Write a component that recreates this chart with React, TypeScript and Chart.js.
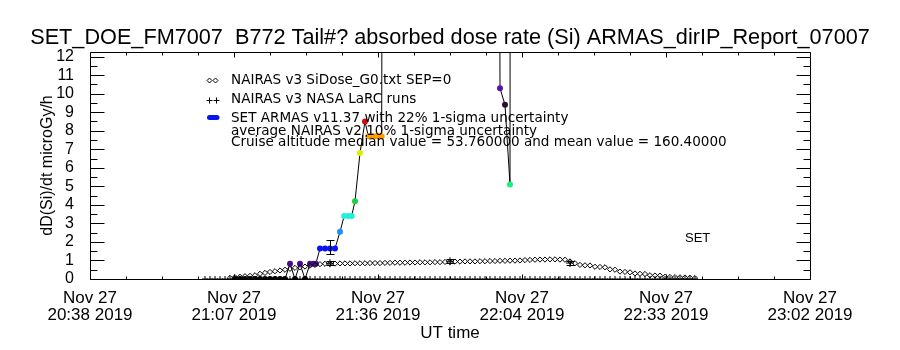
import React, { useEffect, useRef } from "react";
import { Chart, registerables } from "chart.js";

Chart.register(...registerables);

// ---------- axis definitions ----------
const AXIS_START = "20:38";
const xTickValues = [0, 28.8, 57.6, 86.4, 115.2, 144];
const xTickDates = ["Nov 27", "Nov 27", "Nov 27", "Nov 27", "Nov 27", "Nov 27"];
const xTickTimes = ["20:38 2019", "21:07 2019", "21:36 2019", "22:04 2019", "22:33 2019", "23:02 2019"];
const yTickValues = [0, 1, 2, 3, 4, 5, 6, 7, 8, 9, 10, 11, 12];

// ---------- NAIRAS v3 SiDose_G0 (diamonds) ----------
const nairasTimes = [
  "21:01", "21:02", "21:03", "21:04", "21:05", "21:06", "21:07", "21:08", "21:09", "21:10",
  "21:11", "21:12", "21:13", "21:14", "21:15", "21:16", "21:17", "21:18", "21:19", "21:20",
  "21:21", "21:22", "21:23", "21:24", "21:25", "21:26", "21:27", "21:28", "21:29", "21:30",
  "21:31", "21:32", "21:33", "21:34", "21:35", "21:36", "21:37", "21:38", "21:39", "21:40",
  "21:41", "21:42", "21:43", "21:44", "21:45", "21:46", "21:47", "21:48", "21:49", "21:50",
  "21:51", "21:52", "21:53", "21:54", "21:55", "21:56", "21:57", "21:58", "21:59", "22:00",
  "22:01", "22:02", "22:03", "22:04", "22:05", "22:06", "22:07", "22:08", "22:09", "22:10",
  "22:11", "22:12", "22:13", "22:14", "22:15", "22:16", "22:17", "22:18", "22:19", "22:20",
  "22:21", "22:22", "22:23", "22:24", "22:25", "22:26", "22:27", "22:28", "22:29", "22:30",
  "22:31", "22:32", "22:33", "22:34", "22:35", "22:36", "22:37", "22:38", "22:39",
];
const nairasDose = [
  0, 0, 0, 0, 0, 0.06, 0.1, 0.12, 0.15, 0.17,
  0.2, 0.28, 0.33, 0.38, 0.42, 0.46, 0.5, 0.55, 0.6, 0.63,
  0.67, 0.72, 0.76, 0.8, 0.82, 0.82, 0.83, 0.84, 0.84, 0.84,
  0.85, 0.85, 0.85, 0.86, 0.86, 0.86, 0.87, 0.87, 0.88, 0.88,
  0.88, 0.89, 0.89, 0.9, 0.9, 0.9, 0.91, 0.91, 0.92, 0.92,
  0.94, 0.94, 0.95, 0.95, 0.95, 0.96, 0.96, 0.97, 0.97, 0.98,
  0.98, 0.99, 0.99, 1.0, 1.02, 1.03, 1.04, 1.05, 1.05, 1.06,
  1.06, 1.05, 1.04, 0.95, 0.85, 0.76, 0.74, 0.73, 0.66, 0.65,
  0.63, 0.52, 0.5, 0.4, 0.38, 0.36, 0.3, 0.28, 0.27, 0.2,
  0.19, 0.18, 0.12, 0.11, 0.1, 0.09, 0.08, 0.07, 0.05,
];

// ---------- NAIRAS v3 NASA LaRC runs (+ with error bars) ----------
const larcTimes = ["21:26", "21:50", "22:14"];
const larcDose = [0.85, 0.96, 0.86];
const larcErr = [0.12, 0.12, 0.12];

// ---------- SET ARMAS v11.37 ----------
const armasTimes = [
  "21:07:00", "21:08:00", "21:09:00", "21:10:00", "21:11:00", "21:12:00", "21:13:00", "21:14:00",
  "21:15:00", "21:16:00", "21:17:00", "21:18:00", "21:19:00", "21:20:00", "21:21:00", "21:22:00",
  "21:22:40", "21:23:10", "21:24:00", "21:25:00", "21:26:00", "21:27:00", "21:28:00", "21:28:50",
  "21:29:40", "21:30:20", "21:31:00", "21:32:00", "21:33:00", "21:33:40", "21:34:20", "21:35:00",
  "21:35:40", "21:36:20", "21:36:40", "21:42:00", "21:48:00", "21:54:00", "21:59:30", "21:59:50",
  "22:00:00", "22:01:00", "22:02:00", "22:02:20",
];
const armasDose = [
  0, 0, 0, 0, 0, 0, 0, 0,
  0, 0, 0, 0.82, 0, 0.82, 0, 0.82,
  0.82, 0.82, 1.65, 1.65, 1.65, 1.65, 2.55, 3.4,
  3.4, 3.4, 4.2, 6.8, 8.5, 7.7, 7.7, 7.7,
  7.7, 7.7, 48, 130, 210, 180, 70, 26,
  10.3, 9.4, 5.1, 150,
];
const armasColors = [
  "#000000", "#000000", "#000000", "#000000", "#000000", "#000000", "#000000", "#000000",
  "#000000", "#000000", "#000000", "#4a0a8c", "#000000", "#4a0a8c", "#000000", "#4a0a8c",
  "#4a0a8c", "#4a0a8c", "#0a14f0", "#0a14f0", "#0a14f0", "#0a14f0", "#1e8cff", "#20f0d8",
  "#20f0d8", "#20f0d8", "#22cc44", "#d8f000", "#cc1010", "#ff9a00", "#ff9a00", "#ff9a00",
  "#ff9a00", "#ff9a00", "#ff2000", "#ff2000", "#ff2000", "#ff2000", "#ff2000", "#ff2000",
  "#5a12a8", "#2d0a32", "#18f080", "#ff2000",
];
const armasErrTimes = ["21:26:00"];
const armasErrDose = [1.72];
const armasErrSigma = [0.36];

// ---------- texts ----------
const titleText = "SET_DOE_FM7007  B772 Tail#? absorbed dose rate (Si) ARMAS_dirIP_Report_07007";
const legendTexts = [
  "NAIRAS v3 SiDose_G0.txt SEP=0",
  "NAIRAS v3 NASA LaRC runs",
  "SET ARMAS v11.37 with 22% 1-sigma uncertainty",
  "average NAIRAS v2 10% 1-sigma uncertainty",
  "Cruise altitude median value = 53.760000 and mean value = 160.40000",
];
const cornerText = "SET";

const FONT = "'Liberation Sans', Arial, sans-serif";
const LEG_FONT = "'DejaVu Sans', 'Liberation Sans', sans-serif";

function toMin(t: string): number {
  const p = t.split(":").map(Number);
  const s = p[0] * 60 + p[1] + (p[2] || 0) / 60;
  const a = AXIS_START.split(":").map(Number);
  return s - (a[0] * 60 + a[1]);
}

function fitText(ctx: CanvasRenderingContext2D, text: string, family: string, size: number, width: number) {
  ctx.font = `${size}px ${family}`;
  const w = ctx.measureText(text).width;
  return w > 0 ? (size * width) / w : size;
}

const idlPlugin = {
  id: "idlDecor",
  afterDatasetsDraw(chart: any) {
    const { ctx, chartArea, scales } = chart;
    const { left, right, top, bottom } = chartArea;
    const x = scales.x;
    const y = scales.y;
    ctx.save();
    ctx.strokeStyle = "#000";
    ctx.fillStyle = "#000";
    ctx.lineWidth = 1;

    // frame
    ctx.beginPath();
    ctx.rect(Math.round(left) + 0.5, Math.round(top) + 0.5, Math.round(right - left), Math.round(bottom - top));
    ctx.stroke();

    const L = Math.round(left) + 0.5;
    const R = Math.round(right) + 0.5;
    const T = Math.round(top) + 0.5;
    const B = Math.round(bottom) + 0.5;

    // x ticks (major + minor), bottom and top, pointing inward
    ctx.beginPath();
    const xStep = xTickValues[1] - xTickValues[0];
    for (let i = 0; i < xTickValues.length; i++) {
      for (let k = 0; k < 4; k++) {
        const v = xTickValues[i] + (k * xStep) / 4;
        if (v > x.max + 1e-6) continue;
        const px = Math.round(x.getPixelForValue(v)) + 0.5;
        const len = k === 0 ? 5 : 3;
        ctx.moveTo(px, B);
        ctx.lineTo(px, B - len);
        ctx.moveTo(px, T);
        ctx.lineTo(px, T + len);
      }
    }
    // y ticks, left and right
    for (let i = 0; i < yTickValues.length; i++) {
      for (let k = 0; k < 2; k++) {
        const v = yTickValues[i] + k * 0.5;
        if (v > y.max + 1e-6) continue;
        const py = Math.round(y.getPixelForValue(v)) + 0.5;
        const len = k === 0 ? 14 : 7;
        ctx.moveTo(L, py);
        ctx.lineTo(L + len, py);
        ctx.moveTo(R, py);
        ctx.lineTo(R - len, py);
      }
    }
    ctx.stroke();

    // error bars: LaRC
    ctx.beginPath();
    for (let i = 0; i < larcTimes.length; i++) {
      const px = Math.round(x.getPixelForValue(toMin(larcTimes[i]))) + 0.5;
      const p1 = Math.round(y.getPixelForValue(larcDose[i] - larcErr[i])) + 0.5;
      const p2 = Math.round(y.getPixelForValue(larcDose[i] + larcErr[i])) + 0.5;
      ctx.moveTo(px, p1); ctx.lineTo(px, p2);
      ctx.moveTo(px - 4, p1); ctx.lineTo(px + 4, p1);
      ctx.moveTo(px - 4, p2); ctx.lineTo(px + 4, p2);
    }
    // error bars: ARMAS
    for (let i = 0; i < armasErrTimes.length; i++) {
      const px = Math.round(x.getPixelForValue(toMin(armasErrTimes[i]))) + 0.5;
      const p1 = Math.round(y.getPixelForValue(armasErrDose[i] - armasErrSigma[i])) + 0.5;
      const p2 = Math.round(y.getPixelForValue(armasErrDose[i] + armasErrSigma[i])) + 0.5;
      ctx.moveTo(px, p1); ctx.lineTo(px, p2);
      ctx.moveTo(px - 4, p1); ctx.lineTo(px + 4, p1);
      ctx.moveTo(px - 4, p2); ctx.lineTo(px + 4, p2);
    }
    ctx.stroke();

    // title (fit to the reference width)
    const ts = Math.min(23, fitText(ctx, titleText, FONT, 20, 840));
    ctx.font = `${ts}px ${FONT}`;
    ctx.textAlign = "center";
    ctx.textBaseline = "middle";
    ctx.fillText(titleText, 450, 38);

    // legend symbols
    const sx = 207;
    ctx.beginPath();
    [209.5, 215.5].forEach((cx) => {
      const cy = 80.5;
      ctx.moveTo(cx, cy - 2.5); ctx.lineTo(cx + 2.5, cy); ctx.lineTo(cx, cy + 2.5); ctx.lineTo(cx - 2.5, cy); ctx.closePath();
    });
    ctx.stroke();
    ctx.beginPath();
    [209.5, 216.5].forEach((cx) => {
      const cy = 100.5;
      ctx.moveTo(cx - 3, cy); ctx.lineTo(cx + 3, cy);
      ctx.moveTo(cx, cy - 3); ctx.lineTo(cx, cy + 3);
    });
    ctx.stroke();
    ctx.fillStyle = "#0a14f0";
    ctx.beginPath();
    ctx.arc(sx + 2.5, 117.5, 2.5, Math.PI / 2, (3 * Math.PI) / 2);
    ctx.lineTo(sx + 10, 115);
    ctx.arc(sx + 10, 117.5, 2.5, -Math.PI / 2, Math.PI / 2);
    ctx.closePath();
    ctx.fill();

    // legend texts
    ctx.fillStyle = "#000";
    const ls = Math.min(16, fitText(ctx, legendTexts[4], LEG_FONT, 14, 496));
    ctx.font = `${ls}px ${LEG_FONT}`;
    ctx.textAlign = "left";
    const ys = [80, 99, 118, 131, 142];
    legendTexts.forEach((t, i) => ctx.fillText(t, 231, ys[i]));

    ctx.font = `13px ${FONT}`;
    ctx.fillText(cornerText, 685, 238);
    ctx.restore();
  },
};

export default function App() {
  const ref = useRef<HTMLCanvasElement | null>(null);
  useEffect(() => {
    if (!ref.current) return;
    const nairasPts = nairasTimes.map((t, i) => ({ x: toMin(t), y: nairasDose[i] }));
    const rugPts = nairasTimes.map((t) => ({ x: toMin(t), y: 0 }));
    const larcPts = larcTimes.map((t, i) => ({ x: toMin(t), y: larcDose[i] }));
    const armasPts = armasTimes.map((t, i) => ({ x: toMin(t), y: armasDose[i] }));

    const chart = new Chart(ref.current, {
      type: "line",
      data: {
        datasets: [
          {
            label: "NAIRAS v3 SiDose_G0.txt SEP=0",
            data: nairasPts,
            showLine: false,
            pointStyle: "rectRot",
            pointRadius: (c: any) => (c.raw && c.raw.y > 0.03 ? 2.6 : 0),
            pointBorderColor: "#000",
            pointBackgroundColor: "rgba(0,0,0,0)",
            pointBorderWidth: 1,
          },
          {
            label: "rug",
            data: rugPts,
            showLine: false,
            pointStyle: "cross",
            pointRadius: 3,
            pointBorderColor: "#000",
            pointBorderWidth: 1,
            clip: 0,
          },
          {
            label: "NAIRAS v3 NASA LaRC runs",
            data: larcPts,
            showLine: false,
            pointStyle: "cross",
            pointRadius: 4,
            pointBorderColor: "#000",
            pointBorderWidth: 1,
          },
          {
            label: "SET ARMAS v11.37",
            data: armasPts,
            borderColor: "#000",
            borderWidth: 1,
            tension: 0,
            pointRadius: 3,
            pointBackgroundColor: armasColors,
            pointBorderColor: armasColors,
            pointBorderWidth: 0,
            clip: 0,
          },
        ],
      } as any,
      options: {
        responsive: false,
        animation: false,
        devicePixelRatio: 1,
        layout: { padding: { top: 52, right: 90, left: 0, bottom: 0 } },
        plugins: {
          legend: { display: false },
          tooltip: { enabled: false },
          title: { display: false },
        },
        scales: {
          x: {
            type: "linear",
            min: 0,
            max: 144,
            afterBuildTicks: (s: any) => {
              s.ticks = xTickValues.map((v) => ({ value: v }));
            },
            afterFit: (s: any) => {
              s.height = 71;
            },
            ticks: {
              autoSkip: false,
              maxRotation: 0,
              minRotation: 0,
              padding: 3,
              color: "#000",
              font: { family: FONT, size: 17, lineHeight: 1.0 },
              callback: (_v: any, i: number) => [xTickDates[i], xTickTimes[i]],
            },
            grid: { display: false },
            border: { display: false },
            title: {
              display: true,
              text: "UT time",
              color: "#000",
              font: { family: FONT, size: 17, lineHeight: 1.2 },
              padding: { top: 0, bottom: 6 },
            },
          },
          y: {
            type: "linear",
            min: 0,
            max: 12.25,
            afterBuildTicks: (s: any) => {
              s.ticks = yTickValues.map((v) => ({ value: v }));
            },
            afterFit: (s: any) => {
              s.width = 90;
            },
            ticks: {
              autoSkip: false,
              padding: 8,
              color: "#000",
              font: { family: FONT, size: 16 },
            },
            grid: { display: false },
            border: { display: false },
            title: {
              display: true,
              text: "dD(Si)/dt microGy/h",
              color: "#000",
              font: { family: FONT, size: 16, lineHeight: 1.2 },
              padding: { top: 38, bottom: 0 },
            },
          },
        },
      } as any,
      plugins: [idlPlugin],
    });
    return () => chart.destroy();
  }, []);

  return (
    <div style={{ position: "absolute", left: 0, top: 0, width: 900, height: 350, background: "#fff" }}>
      <canvas ref={ref} width={900} height={350} style={{ display: "block", width: 900, height: 350 }} />
    </div>
  );
}
